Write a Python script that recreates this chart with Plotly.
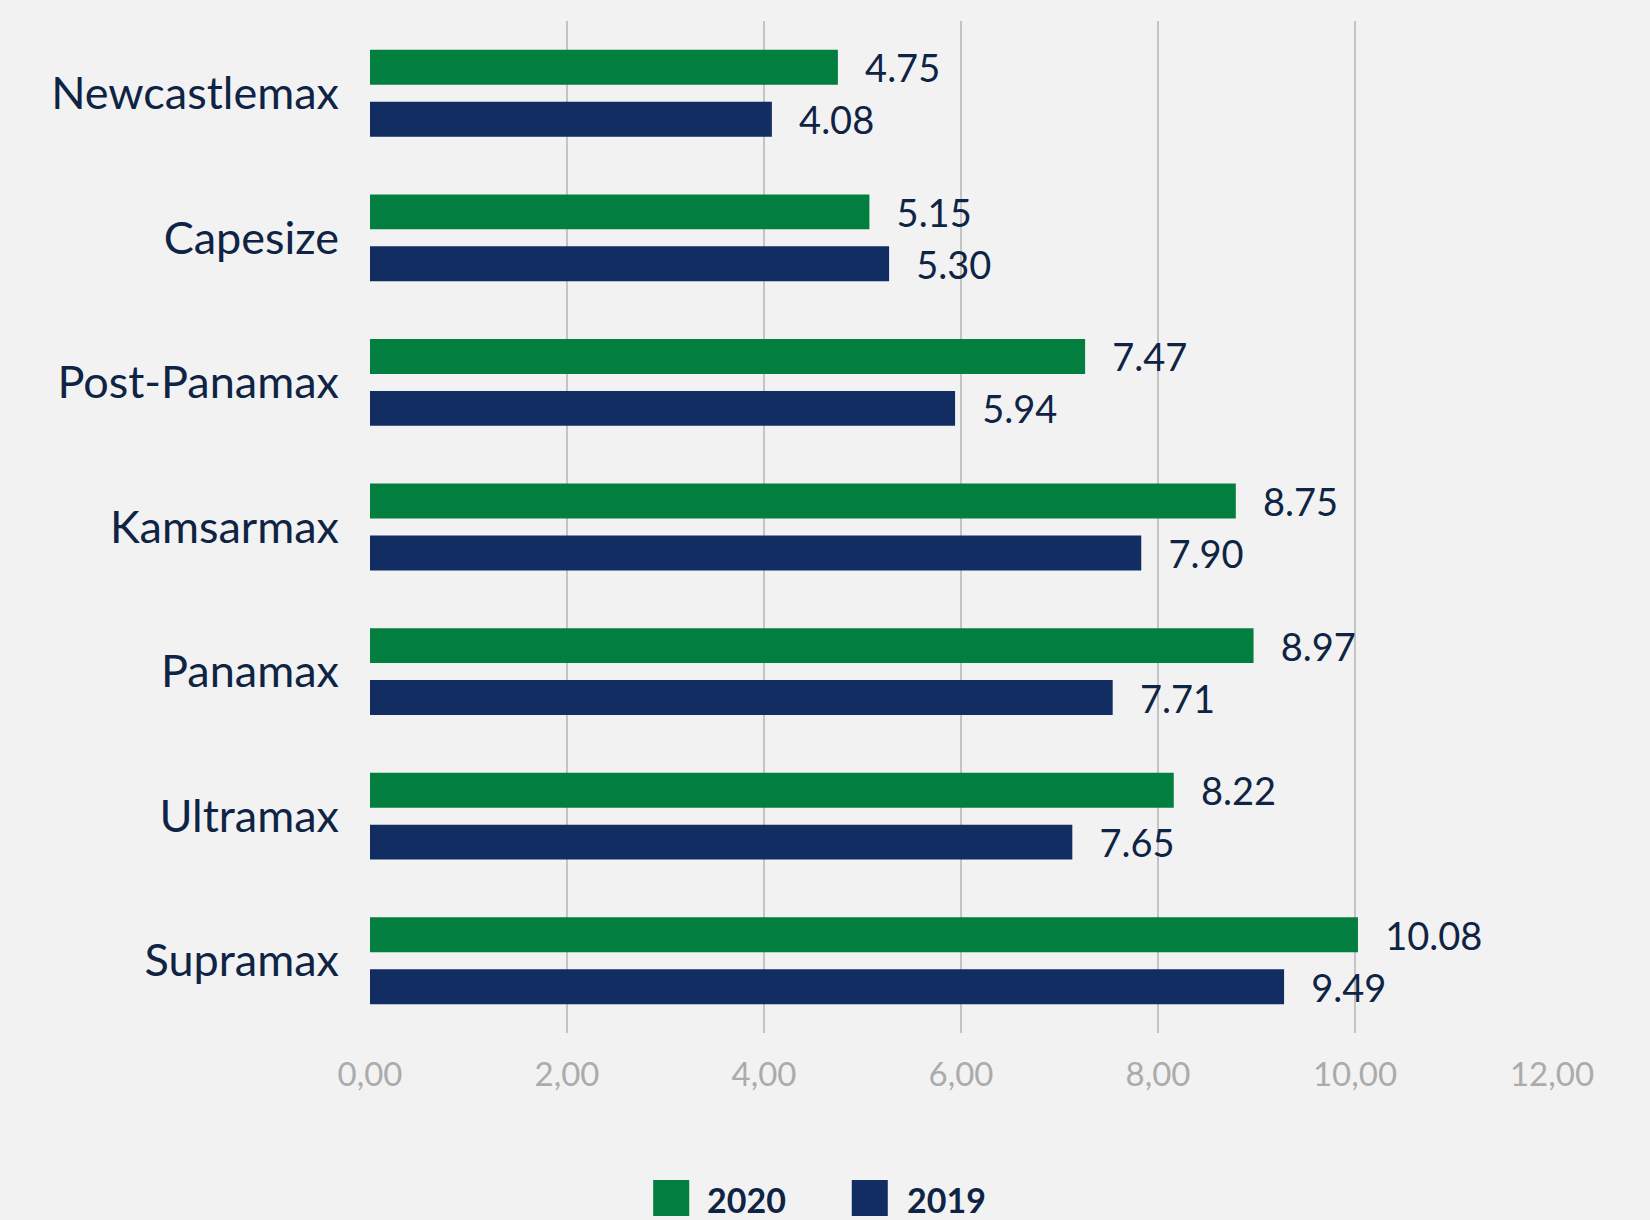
import plotly.graph_objects as go

categories = ["Newcastlemax", "Capesize", "Post-Panamax", "Kamsarmax", "Panamax", "Ultramax", "Supramax"]
series_names = ["2020", "2019"]
# bar lengths as drawn in the picture
bars_2020 = [4.75, 5.07, 7.26, 8.79, 8.97, 8.16, 10.03]
bars_2019 = [4.08, 5.27, 5.94, 7.83, 7.54, 7.13, 9.28]
# value labels as printed in the picture
labels_2020 = [4.75, 5.15, 7.47, 8.75, 8.97, 8.22, 10.08]
labels_2019 = [4.08, 5.30, 5.94, 7.90, 7.71, 7.65, 9.49]
tick_values = [0, 2, 4, 6, 8, 10, 12]

GREEN = "#027F3F"
NAVY = "#112D62"
TEXT = "#0F2444"
FONT = "Lato"

W, H = 1650, 1220
L, R, T, B = 370.4, 98, 21, 187
pw, ph = W - L - R, H - T - B

fig = go.Figure()
pad = "\u00a0\u00a0\u2009"
for name, vals, labs, col in [(series_names[0], bars_2020, labels_2020, GREEN),
                              (series_names[1], bars_2019, labels_2019, NAVY)]:
    fig.add_trace(go.Bar(
        name=name, y=categories, x=vals, orientation="h",
        marker=dict(color=col, line=dict(width=0)),
        text=[pad + f"{v:.2f}" for v in labs],
        textposition="outside", constraintext="none", cliponaxis=False,
        textfont=dict(family=FONT, size=38, color=TEXT),
        showlegend=False, hoverinfo="skip",
    ))

fig.update_layout(
    width=W, height=H,
    margin=dict(l=L, r=R, t=T, b=B, pad=0),
    paper_bgcolor="#F2F2F2", plot_bgcolor="#F2F2F2",
    barmode="group", bargap=0.282, bargroupgap=0.327,
    separators=",.",
    font=dict(family=FONT, color=TEXT),
    xaxis=dict(range=[0, 12], tickvals=tick_values, tickformat=".2f",
               showgrid=True, gridcolor="#C4C4C4", gridwidth=1.5,
               zeroline=False, showline=False, ticks="",
               tickfont=dict(family=FONT, size=33, color="#ABABAB"),
               ticklabelstandoff=19, fixedrange=True),
    yaxis=dict(autorange="reversed", showgrid=False, zeroline=False, showline=False,
               ticks="", tickfont=dict(family=FONT, size=45, color=TEXT),
               ticklabelstandoff=30, fixedrange=True),
)

# manual legend with large square swatches
def px_to_paper_x(px):
    return (px - L) / pw

def px_to_paper_y(py):
    return (H - B - py) / ph

legend_items = [(series_names[0], GREEN, 653.5, 705), (series_names[1], NAVY, 852, 905)]
for name, col, sx, tx in legend_items:
    fig.add_shape(type="rect", xref="paper", yref="paper",
                  x0=px_to_paper_x(sx), x1=px_to_paper_x(sx + 36),
                  y0=px_to_paper_y(1180), y1=px_to_paper_y(1216),
                  fillcolor=col, line=dict(width=0))
    fig.add_annotation(xref="paper", yref="paper", x=px_to_paper_x(tx), y=px_to_paper_y(1199),
                       xanchor="left", yanchor="middle", showarrow=False,
                       text=f"<b>{name}</b>", font=dict(family=FONT, size=34, color=TEXT))

fig.write_html("out.html")
